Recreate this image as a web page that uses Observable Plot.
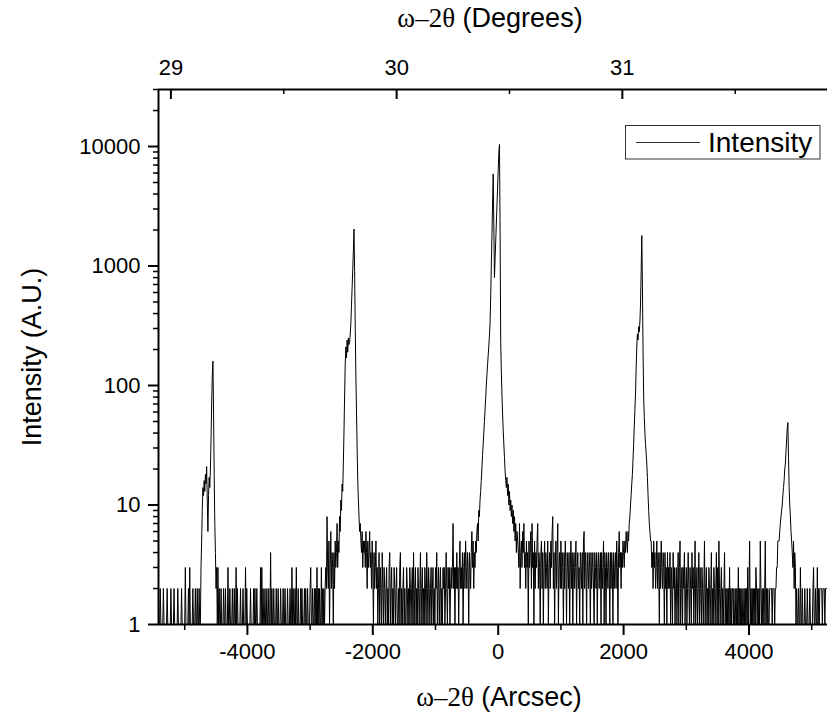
<!DOCTYPE html>
<html><head><meta charset="utf-8">
<script src="https://cdn.jsdelivr.net/npm/d3@7"></script>
<script src="https://cdn.jsdelivr.net/npm/@observablehq/plot@0.6"></script>
<style>html,body{margin:0;padding:0;background:#fff;} #chart{width:827px;height:716px;}</style>
</head><body><div id="chart"></div>
<script>
// Scan step (arcsec) and segments: [start arcsec, counts...]
const STEP = 10;
const bgFarLeft = [ // -5410 .. -4760
  1,1,2,1,1,1,1,2,1,1,
  1,1,1,2,1,1,1,1,1,2,
  1,1,1,1,2,1,1,1,1,1,
  2,1,1,1,1,1,2,1,1,1,
  1,1,3,1,1,1,1,2,1,3,
  1,1,1,1,2,1,1,1,2,1,
  1,2,1,1,2,1];
const peakA = [ // -4750 .. -4480
  1,3,5,9,14,12,16,13,18,15,
  21,11,6,12,17,14,20,35,70,120,
  160,60,18,7,4,2,3,1];
const bgAB = [ // -4470 .. -2740
  3,1,2,1,1,2,1,1,1,2,
  1,1,2,1,1,1,3,1,1,2,
  1,1,1,2,1,1,2,1,1,3,
  1,2,1,1,1,1,2,1,1,1,
  2,1,1,1,3,1,2,1,1,1,
  1,1,2,1,1,1,1,2,1,2,
  1,1,2,1,1,1,1,1,3,1,
  3,1,2,1,1,2,1,1,2,1,
  1,2,1,1,4,1,2,1,1,2,
  1,1,1,2,1,1,2,1,1,1,
  2,1,1,1,2,1,1,2,1,1,
  1,2,1,1,1,2,1,1,3,1,
  2,1,1,2,1,3,1,1,2,1,
  1,1,2,1,2,1,1,1,2,1,
  2,1,1,2,1,1,1,2,3,1,
  1,2,1,1,2,1,2,1,3,1,
  2,1,2,1,1,3,1,2,1,2,
  1,2,3,2];
const peakB = [ // -2730 .. -2140
  8,3,2,5,1,3,6,2,4,3,
  1,4,2,5,3,4,7,3,5,4,
  8,6,11,9,15,13,22,40,80,150,
  210,170,240,190,250,220,230,270,330,470,
  660,930,1350,2040,900,300,120,60,30,16,
  11,8,6,7,5,4,6,3,5,4];
const bgBC = [ // -2130 .. -350
  5,3,6,4,2,5,3,4,6,3,
  4,2,5,3,1,4,2,3,5,2,
  3,1,2,4,1,3,2,1,4,2,
  1,3,2,1,2,3,1,2,1,3,
  4,1,2,3,1,2,1,3,2,1,
  2,3,1,1,2,1,3,4,1,2,
  1,2,3,1,2,1,1,3,2,1,
  2,1,3,2,1,2,3,1,4,1,
  2,3,1,2,1,3,2,1,2,4,
  1,2,3,1,2,1,3,2,1,4,
  2,1,3,2,1,2,3,1,2,3,
  1,2,1,3,2,4,1,2,3,1,
  2,3,1,2,1,3,2,3,1,2,
  4,2,1,3,2,3,1,2,3,2,
  3,7,2,3,1,3,2,4,2,3,
  1,3,5,2,3,2,4,1,3,4,
  2,5,3,2,4,3,1,4,3,2,
  4,6,3,5,2,4,3,5,4];
const peakC = [ // -340 .. 300
  6,7,5,9,8,11,13,16,20,26,
  32,40,50,62,78,100,122,148,178,215,
  260,330,550,1000,1800,3300,5900,2200,800,1130,
  1590,2250,3170,4480,6320,8900,10400,2000,230,130,
  85,58,42,32,25,19,16,14,17,12,
  15,10,13,9,11,8,10,7,9,6,
  8,5,7,4,6];
const bgCD = [ // 310 .. 2040
  5,4,3,7,2,4,5,3,6,4,
  7,3,4,2,5,3,4,1,5,3,
  4,6,2,7,3,4,1,5,2,4,
  3,5,7,2,4,3,1,4,5,2,
  4,1,3,5,2,4,3,2,5,1,
  3,4,2,5,3,6,8,2,4,1,
  3,5,2,4,7,1,3,4,2,5,
  2,4,3,1,4,2,5,3,1,4,
  3,2,4,1,3,5,2,4,1,3,
  4,2,3,5,1,3,4,2,3,1,
  4,3,2,4,1,5,6,2,4,3,
  1,4,3,2,4,3,1,4,2,3,
  4,2,1,4,3,2,4,1,3,4,
  2,3,4,1,4,2,3,5,1,4,
  3,1,4,3,2,4,3,1,4,2,
  4,3,1,4,2,3,4,2,5,3,
  1,4,6,3,4,2,4,3,5,4,
  3,5,4,6];
const peakD = [ // 2050 .. 2430
  5,4,6,5,7,8,10,12,15,18,
  24,32,45,62,85,140,210,270,240,310,
  280,340,480,900,1800,700,200,80,55,40,
  32,27,22,17,12,9,7,6,5];
const bgDE = [ // 2440 .. 4440
  5,3,4,2,5,3,4,2,3,5,
  2,4,3,1,4,2,5,3,2,4,
  3,1,4,2,3,1,4,2,3,2,
  4,1,3,2,1,4,2,3,1,2,
  3,1,2,4,1,3,5,1,2,3,
  1,3,2,4,1,2,3,1,2,4,
  2,1,3,2,1,4,2,3,1,2,
  5,1,2,3,1,2,4,1,3,2,
  1,3,2,1,2,5,1,2,3,1,
  2,1,3,2,1,2,4,1,2,1,
  3,2,1,2,4,1,3,1,5,2,
  1,2,3,1,2,1,2,4,1,2,
  1,2,1,2,1,3,1,2,1,2,
  2,1,2,1,1,2,1,2,1,3,
  1,2,1,2,1,2,1,1,2,1,
  2,1,2,1,3,1,2,5,1,2,
  1,2,1,2,1,2,1,3,2,1,
  2,1,2,1,5,2,1,2,1,2,
  1,2,5,1,2,1,2,1,1,2,
  2,2,2,1,2,2,2,1,2,2,
  3];
const peakE = [ // 4450 .. 4740
  3,5,5,5,6,7,8,9,10,12,
  14,16,20,22,28,35,44,49,25,14,
  10,8,6,5,4,3,5,2,4,3];
const bgFarRight = [ // 4750 .. 5250
  1,2,1,1,2,1,1,3,1,1,
  2,1,1,1,2,1,1,1,2,1,
  1,1,2,1,1,1,1,2,3,1,
  1,2,1,1,3,1,2,1,2,2,
  2,2,1,2,2,2,1,2,2,2,
  2];
const segmentStarts = [-5410,-4750,-4470,-2730,-2130,-340,310,2050,2440,4450,4750];
const segmentValues = [bgFarLeft,peakA,bgAB,peakB,bgBC,peakC,bgCD,peakD,bgDE,peakE,bgFarRight];

// Axis ticks
const xDomain = [-5418, 5252];
const yDomain = [1, 30000];
const xMajor = [-4000,-2000,0,2000,4000];
const xMinor = [-5000,-3000,-1000,1000,3000,5000];
const degMajor = [29,30,31];
const degMinor = [29.5,30.5,31.5];
const degAtZero = 30.45, arcsecPerDeg = 3600;
const yMajor = [1,10,100,1000,10000];
const yMinor = [2,3,4,5,6,7,8,9,20,30,40,50,60,70,80,90,200,300,400,500,600,700,800,900,
  2000,3000,4000,5000,6000,7000,8000,9000,20000,30000];

const data = segmentStarts.flatMap((x0, s) => segmentValues[s].map((v, i) => ({x: x0 + i*STEP, y: v})));
const toArc = d => (d - degAtZero) * arcsecPerDeg;

const W = 827, H = 716, mL = 158, mR = 0, mT = 89, mB = 92;
const frameH = H - mT - mB;

const chart = Plot.plot({
  width: W, height: H,
  marginLeft: mL, marginRight: mR, marginTop: mT, marginBottom: mB,
  style: {fontFamily: "'Liberation Sans', Arial, sans-serif", fontSize: "22px", background: "white", color: "black", overflow: "visible"},
  x: {domain: xDomain, label: null},
  y: {type: "log", domain: yDomain, label: null},
  marks: [
    Plot.line(data, {x: "x", y: "y", stroke: "black", strokeWidth: 1, clip: true}),
    Plot.ruleY([yDomain[0]], {strokeWidth: 2}),
    Plot.ruleY([yDomain[1]], {strokeWidth: 2}),
    Plot.ruleX([xDomain[0]], {strokeWidth: 2}),
    Plot.axisX({ticks: xMajor, anchor: "bottom", tickSize: 11, tickPadding: 8, strokeWidth: 2,
      tickFormat: d => String(d), fontSize: 22, label: null}),
    Plot.axisX({ticks: xMinor, anchor: "bottom", tickSize: 6, strokeWidth: 1.5, tickFormat: () => "", label: null}),
    Plot.tickX(degMajor, {x: toArc, insetBottom: frameH - 10, strokeWidth: 2}),
    Plot.tickX(degMinor, {x: toArc, insetBottom: frameH - 5, strokeWidth: 1.5}),
    Plot.text(degMajor, {x: toArc, frameAnchor: "top", dy: -15, lineAnchor: "bottom", text: d => String(d), fontSize: 22}),
    Plot.axisY({ticks: yMajor, anchor: "left", tickSize: 10, tickPadding: 8, strokeWidth: 2,
      tickFormat: d => String(d), fontSize: 22, label: null}),
    Plot.axisY({ticks: yMinor, anchor: "left", tickSize: 5, strokeWidth: 1.5, tickFormat: () => "", label: null})
  ]
});
document.getElementById("chart").appendChild(chart);

// Titles with serif Greek letters
const svg = d3.select(chart);
const serif = "'Liberation Serif', 'Times New Roman', serif";
const sans = "'Liberation Sans', Arial, sans-serif";
function title(x, y, parts, rotate) {
  const t = svg.append("text").attr("x", x).attr("y", y).attr("text-anchor", "middle")
    .attr("font-size", 27).attr("fill", "black");
  if (rotate) t.attr("transform", `rotate(-90 ${x} ${y})`);
  parts.forEach(([txt, fam]) => t.append("tspan").attr("font-family", fam).text(txt));
}
title(490, 27, [["ω–2θ", serif], [" (Degrees)", sans]]);
title(499, 706, [["ω–2θ", serif], [" (Arcsec)", sans]]);
title(41, 357, [["Intensity (A.U.)", sans]], true);

// Legend
const lg = svg.append("g");
lg.append("rect").attr("x", 625.5).attr("y", 125.5).attr("width", 194.5).attr("height", 33.5)
  .attr("fill", "white").attr("stroke", "#333").attr("stroke-width", 1);
lg.append("line").attr("x1", 636).attr("x2", 700).attr("y1", 142.5).attr("y2", 142.5)
  .attr("stroke", "#333").attr("stroke-width", 1);
lg.append("text").attr("x", 708).attr("y", 151.5).attr("font-family", sans).attr("font-size", 28)
  .attr("text-anchor", "start").attr("fill", "black").text("Intensity");
</script>
</body></html>
